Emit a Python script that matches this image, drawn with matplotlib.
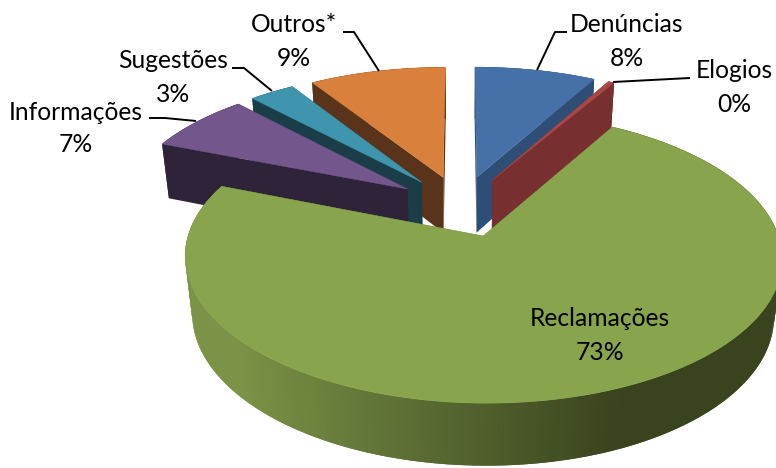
import numpy as np
import matplotlib
matplotlib.use('Agg')
import matplotlib.pyplot as plt
from matplotlib.colors import to_rgb
from matplotlib.patches import Polygon

categories = ['Denúncias', 'Elogios', 'Reclamações', 'Informações', 'Sugestões', 'Outros*']
values = [8, 0.4, 72.6, 7, 3, 9]

top_colors = ['#4570a8', '#a94744', '#88a44c', '#72568c', '#3f94ae', '#d9813c']
wall_colors = ['#2f4e75', '#772f2f', '#5a6b35', '#2e2338', '#1b3d48', '#59331a']
rim_light = '#7a9346'
rim_dark = '#39431e'

# label centres and leader lines, in pixels
label_pos = [(627, 25), (734, 71), (600, 319), (76, 112), (173, 61), (294, 25)]
leaders = [[(567, 32), (555, 32), (537, 70)],
           [(690, 78), (613, 82)],
           None,
           [(149, 118), (165, 118), (196, 121)],
           [(232, 68), (244, 68), (272, 91)],
           [(343, 32), (354, 32), (379, 71)]]

# projection of the tilted pie
cx, cy = 461, 206
a, s = 286, 133.6
k, kz = 0.144, 0.025
depth = 58
explode = 0.23


def project(x, y, z=0.0):
    w = 1 + k * y + kz * z
    return cx + a * x / w, cy - s * y / w + depth * z / w


def mix(c1, c2, t):
    c1, c2 = np.array(to_rgb(c1)), np.array(to_rgb(c2))
    return tuple(c1 + (c2 - c1) * t)


fig = plt.figure(figsize=(7.76, 4.68), dpi=100)
ax = fig.add_axes([0, 0, 1, 1])
ax.set_xlim(0, 776)
ax.set_ylim(468, 0)
ax.axis('off')

edges = np.cumsum([0] + values) / sum(values) * 2 * np.pi
slices = []
for i in range(len(values)):
    t1, t2 = edges[i], edges[i + 1]
    mid = (t1 + t2) / 2
    slices.append((np.cos(mid), i, t1, t2, mid))
slices.sort(reverse=True)  # back to front

for n, (_, i, t1, t2, mid) in enumerate(slices):
    ox, oy = explode * np.sin(mid), explode * np.cos(mid)
    arc = np.linspace(t1, t2, max(3, int((t2 - t1) * 60)))
    xs = ox + np.sin(arc)
    ys = oy + np.cos(arc)

    # radial walls
    for t in (t1, t2):
        ex, ey = ox + np.sin(t), oy + np.cos(t)
        wall = [project(ox, oy), project(ex, ey), project(ex, ey, 1), project(ox, oy, 1)]
        ax.add_patch(Polygon(wall, fc=wall_colors[i], ec='none', zorder=n + 1))

    # outer rim, shaded strip by strip; each strip overlaps the next to hide seams
    for j in range(len(arc) - 1):
        j2 = min(j + 2, len(arc) - 1)
        quad = [project(xs[j], ys[j]), project(xs[j2], ys[j2]),
                project(xs[j2], ys[j2], 1), project(xs[j], ys[j], 1)]
        if categories[i] == 'Reclamações':
            col = mix(rim_light, rim_dark, np.clip((np.sin(arc[j]) + 0.75) / 1.15, 0, 1))
        else:
            col = wall_colors[i]
        ax.add_patch(Polygon(quad, fc=col, ec='none', zorder=n + 1))

    # top surface
    pts = [project(ox, oy)] + [project(x, y) for x, y in zip(xs, ys)]
    ax.add_patch(Polygon(pts, fc=top_colors[i], ec=top_colors[i], lw=0.3, zorder=n + 1))

for i, name in enumerate(categories):
    x, y = label_pos[i]
    ax.text(x, y, name, ha='center', va='center', fontsize=17.7, family='Lato', color='black', zorder=50)
    ax.text(x, y + 33, '%d%%' % round(values[i]), ha='center', va='center', fontsize=17.7,
            family='Lato', color='black', zorder=50)
    if leaders[i]:
        lx, ly = zip(*leaders[i])
        ax.plot(lx, ly, color='black', lw=1.4, zorder=40, solid_capstyle='butt')

fig.savefig('out.png', dpi=100)
